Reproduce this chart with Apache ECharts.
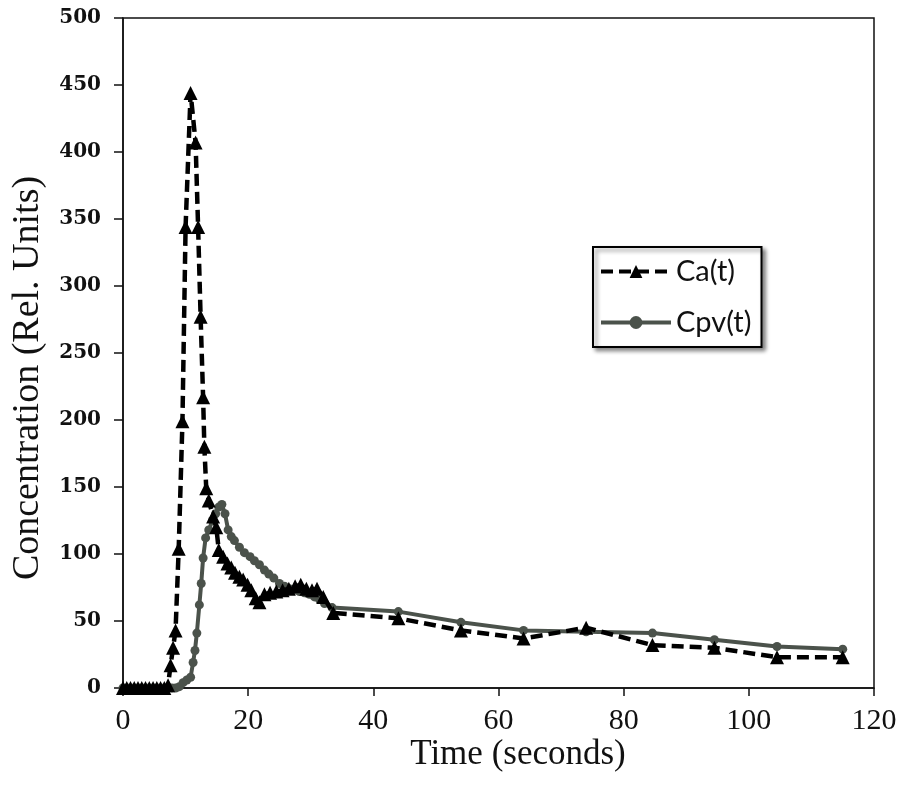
<!DOCTYPE html>
<html>
<head>
<meta charset="utf-8">
<script src="https://cdn.jsdelivr.net/npm/echarts@6/dist/echarts.min.js"></script>
<style>
html,body{margin:0;padding:0;background:#fff;}
#chart{width:911px;height:790px;}
</style>
</head>
<body>
<div id="chart"></div>
<script>
// Ca(t): arterial input (time in seconds, concentration in rel. units)
const caTime = [0,0.6,1.2,1.8,2.4,3.0,3.6,4.2,4.8,5.4,6.0,6.6,7.2,7.6,8.0,8.4,8.9,9.5,10.0,10.8,11.6,12.0,12.4,12.8,13.0,13.3,13.7,14.4,14.9,15.3,16.0,16.7,17.3,17.9,18.6,19.2,19.9,20.5,21.2,21.8,22.6,23.5,24.5,25.5,26.5,27.5,28.4,29.3,30.2,31.0,32.0,33.6,44.0,54.0,64.0,74.0,84.6,94.5,104.5,115.0];
const caValue = [0,0,0,0,0,0,0,0,0,0,0,0,2,17,30,43,104,199,344,444,407,344,277,217,180,149,140,128,120,103,98,93,90,86,83,81,77,73,67,64,70,71,72,73,74,76,77,74,73,74,68,56,52,43,37,45,32,30,23,23];
// Cpv(t): portal venous input
const cpvTime = [0,0.6,1.2,1.8,2.4,3.0,3.6,4.2,4.8,5.4,6.0,6.6,7.2,7.8,8.4,9.0,9.6,10.2,10.8,11.2,11.5,11.8,12.2,12.5,12.8,13.2,13.7,14.3,14.8,15.3,15.8,16.3,16.8,17.3,17.8,18.6,19.4,20.3,21.0,21.8,22.6,23.3,24.1,25.0,25.8,26.6,27.4,28.2,29.0,29.8,30.6,31.4,32.2,33.4,44.0,54.0,64.0,74.0,84.6,94.5,104.5,115.0];
const cpvValue = [0,0,0,0,0,0,0,0,0,0,0,0,0,0,0,1,4,6,8,19,28,41,62,78,97,112,118,125,130,135,137,130,118,113,110,105,101,98,95,92,88,85,82,78,76,74,73,72,71,70,68,66,63,60,57,49,43,42,41,36,31,29];
const xTicks = {min:0, max:120, step:20};
const yTicks = {min:0, max:500, step:50};
const xTitle = 'Time (seconds)';
const yTitle = 'Concentration (Rel. Units)';

const caData = caTime.map((t,i)=>[t, caValue[i]]);
const cpvData = cpvTime.map((t,i)=>[t, cpvValue[i]]);

const chart = echarts.init(document.getElementById('chart'));
chart.setOption({
  backgroundColor:'#ffffff',
  animation:false,
  grid:{left:123, right:37, top:18, bottom:102, show:true, borderColor:'#111', borderWidth:1.5, backgroundColor:'transparent', containLabel:false, outerBoundsMode:'none'},
  graphic:[
    {type:'text', x:518, y:755, style:{text:xTitle, font:'35px "Liberation Serif"', fill:'#111', align:'center', verticalAlign:'middle'}},
    {type:'text', x:28, y:378, rotation:Math.PI/2, style:{text:yTitle, font:'38px "Liberation Serif"', fill:'#111', align:'center', verticalAlign:'middle'}}
  ],
  legend:{
    left:593, top:247, orient:'vertical',
    padding:[10,10,10,6],
    itemWidth:70, itemHeight:16, itemGap:22,
    backgroundColor:'#fff',
    borderColor:'#000', borderWidth:2,
    shadowColor:'rgba(0,0,0,0.45)', shadowBlur:4, shadowOffsetX:3, shadowOffsetY:3,
    lineStyle:{width:4},
    textStyle:{fontFamily:'Lato', fontSize:29, color:'#111', padding:[0,2,0,0]},
    data:['Ca(t)','Cpv(t)']
  },
  xAxis:{
    type:'value', min:xTicks.min, max:xTicks.max, interval:xTicks.step,
    axisLine:{show:true, lineStyle:{color:'#111', width:1.5}},
    axisTick:{show:true, inside:false, length:8, lineStyle:{color:'#111', width:1.5}},
    axisLabel:{fontFamily:'Liberation Serif', fontSize:30, color:'#111', margin:18},
    splitLine:{show:false}
  },
  yAxis:{
    type:'value', min:yTicks.min, max:yTicks.max, interval:yTicks.step,
    axisLine:{show:true, lineStyle:{color:'#111', width:1.5}},
    axisTick:{show:true, inside:false, length:9, lineStyle:{color:'#111', width:1.5}},
    axisLabel:{fontFamily:'DejaVu Serif', fontWeight:'bold', fontSize:20, color:'#111', margin:22},
    splitLine:{show:false}
  },
  series:[
    {
      name:'Cpv(t)', type:'line', data:cpvData,
      symbol:'circle', symbolSize:9,
      lineStyle:{color:'#4b524b', width:4},
      itemStyle:{color:'#4b524b'},
      z:2
    },
    {
      name:'Ca(t)', type:'line', data:caData,
      symbol:'triangle', symbolSize:14,
      lineStyle:{color:'#000', width:4.5, type:[12,6]},
      itemStyle:{color:'#000'},
      z:3
    }
  ]
});
</script>
</body>
</html>
